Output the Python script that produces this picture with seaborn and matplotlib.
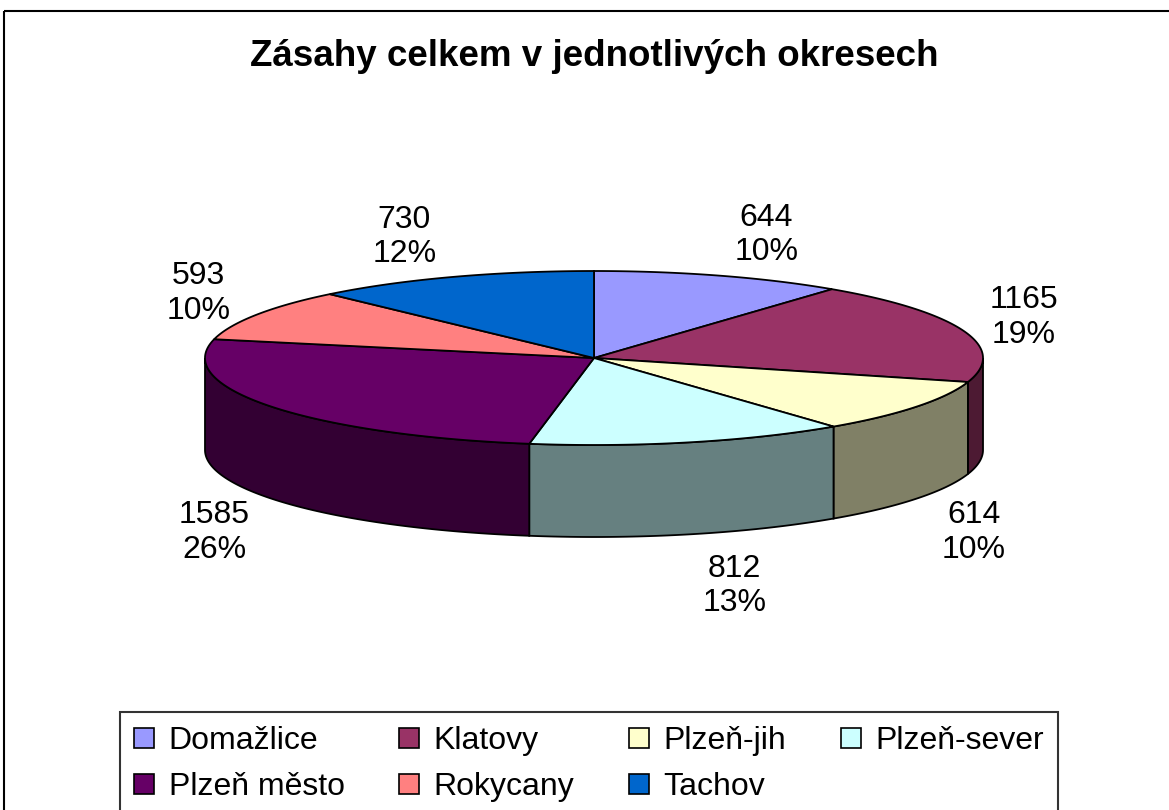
import numpy as np
import matplotlib.pyplot as plt
from matplotlib.patches import Patch, Rectangle
import seaborn as sns

# Data
districts = ['Domažlice', 'Klatovy', 'Plzeň-jih', 'Plzeň-sever', 'Plzeň město', 'Rokycany', 'Tachov']
counts = [644, 1165, 614, 812, 1585, 593, 730]
colors = ['#9999FF', '#993366', '#FFFFCC', '#CCFFFF', '#660066', '#FF8080', '#0066CC']

sns.set_theme(style='white')
plt.rcParams['font.family'] = ['Liberation Sans', 'DejaVu Sans']

top_cols = sns.color_palette(colors)
side_cols = [tuple(c * 0.5 for c in col) for col in top_cols]

fig = plt.figure(figsize=(11.69, 8.10), dpi=100)
ax = fig.add_axes([0, 0, 1, 1])
ax.set_xlim(0, 1169)
ax.set_ylim(810, 0)
ax.axis('off')

# 3D pie geometry (pixel-like units)
cx, cy, rx, ry, depth = 594, 358, 389, 87, 92

vals = np.array(counts, dtype=float)
frac = vals / vals.sum()
edges = np.concatenate([[0], np.cumsum(frac)]) * 360


def rim(a0, a1, dy=0, n=120):
    t = np.radians(np.linspace(a0, a1, n))
    return cx + rx * np.sin(t), cy - ry * np.cos(t) + dy


# Front side walls
for i in range(len(counts)):
    a0 = max(edges[i], 90)
    a1 = min(edges[i + 1], 270)
    if a0 >= a1:
        continue
    xt, yt = rim(a0, a1)
    xb, yb = rim(a1, a0, dy=depth)
    ax.fill(np.concatenate([xt, xb]), np.concatenate([yt, yb]),
            facecolor=side_cols[i], edgecolor='black', linewidth=1.3, zorder=1)

# Top faces
for i in range(len(counts)):
    xa, ya = rim(edges[i], edges[i + 1])
    ax.fill(np.concatenate([[cx], xa]), np.concatenate([[cy], ya]),
            facecolor=top_cols[i], edgecolor='black', linewidth=1.3, zorder=2)

# Data labels
for i in range(len(counts)):
    m = np.radians((edges[i] + edges[i + 1]) / 2)
    s, c = np.sin(m), np.cos(m)
    lx = cx + 410 * s + 40 * np.sign(s)
    ly = cy - 130 * c + (depth + 10 if c < 0 else 0)
    ax.text(lx, ly, f'{counts[i]}\n{round(frac[i] * 100):.0f}%', ha='center', va='center',
            fontsize=23, color='black', linespacing=1.2, zorder=3)

ax.text(594, 56, 'Zásahy celkem v jednotlivých okresech', ha='center', va='center',
        fontsize=26.5, fontweight='bold', color='black')

# Outer chart border
ax.add_patch(Rectangle((4, 11), 1400, 1000, fill=False, edgecolor='black', linewidth=1.5, zorder=5))

# Legend (row-major ordering for 4 columns)
order = [0, 4, 1, 5, 2, 6, 3]
handles = [Patch(facecolor=top_cols[i], edgecolor='black', linewidth=1.2, label=districts[i]) for i in order]
leg = fig.legend(handles=handles, ncol=4, loc='upper left', mode='expand',
                 bbox_to_anchor=(120 / 1169, 0, 938 / 1169, 1 - 712 / 810), borderaxespad=0,
                 fontsize=23, labelcolor='black', handlelength=0.62, handleheight=0.62,
                 handletextpad=0.45, labelspacing=0.5, borderpad=0.45, frameon=True, fancybox=False)
leg.get_frame().set_edgecolor('black')
leg.get_frame().set_linewidth(1.5)

plt.savefig('out.png', dpi=100)
